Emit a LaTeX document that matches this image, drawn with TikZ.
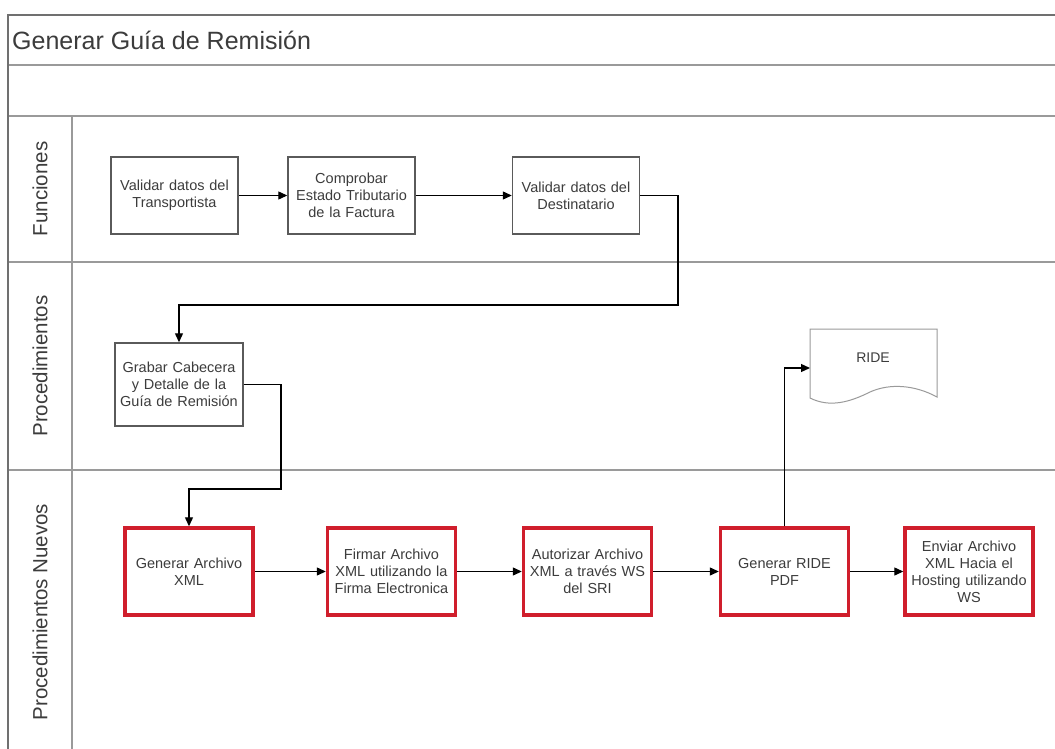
\documentclass[tikz,border=0pt]{standalone}
\usepackage{fontspec}
\setmainfont{Liberation Sans}
\usetikzlibrary{arrows.meta}
\definecolor{frameC}{HTML}{707070}
\definecolor{laneC}{HTML}{9A9A9A}
\definecolor{boxC}{HTML}{5A5A5A}
\definecolor{txtC}{HTML}{3C3C3C}
\definecolor{redC}{HTML}{D01E2C}
\definecolor{docC}{HTML}{9A9A9A}
\tikzset{
  lanelabel/.style={rotate=90, text=txtC, font=\fontsize{20.5}{24}\selectfont},
  procbox/.style={draw=boxC, line width=1.4pt, fill=white, text=txtC, align=center,
    minimum width=127pt, minimum height=77pt, inner sep=0pt, text width=120pt,
    font=\fontsize{14.5}{17}\selectfont},
  redbox/.style={procbox, draw=redC, line width=3.4pt, minimum width=128pt, minimum height=87pt},
  flow/.style={draw=black, line width=1.2pt, -{Triangle[length=9pt,width=8pt]}},
}
\begin{document}
\begin{tikzpicture}[x=1pt,y=-1pt]
\useasboundingbox (0,0) rectangle (1055,749);
\fill[white] (0,0) rectangle (1055,749);
% frame
\draw[laneC, line width=1.2pt] (8,65) -- (1055,65);
\draw[laneC, line width=1.2pt] (8,116) -- (1055,116);
\draw[laneC, line width=1.2pt] (8,262) -- (1055,262);
\draw[laneC, line width=1.2pt] (8,470) -- (1055,470);
\draw[laneC, line width=1.2pt] (72,116) -- (72,749);
\draw[frameC, line width=1.8pt] (8,749) -- (8,15) -- (1055,15);
% title and lane labels
\node[anchor=west, text=txtC, font=\fontsize{25}{30}\selectfont, inner sep=0pt] (title) at (12,40) {Generar Guía de Remisión};
\node[lanelabel] (lf) at (40,189) {Funciones};
\node[lanelabel] (lp) at (40,366) {Procedimientos};
\node[lanelabel] (ln) at (40,612) {Procedimientos Nuevos};
% Funciones
\node[procbox] (b1) at (174.5,195.5) {Validar datos del\\Transportista};
\node[procbox] (b2) at (351.5,195.5) {Comprobar\\Estado Tributario\\de la Factura};
\node[procbox] (b3) at (576,195.5) {Validar datos del\\Destinatario};
% Procedimientos
\node[procbox, minimum width=128pt, minimum height=83pt] (b4) at (179,384.5) {Grabar Cabecera\\y Detalle de la\\Guía de Remisión};
% RIDE document
\draw[docC, line width=1pt, fill=white] (810,329) -- (937,329) -- (937,397)
  .. controls (915,385) and (890,383) .. (870,392)
  .. controls (850,402) and (830,408) .. (810,398) -- cycle;
\node[text=txtC, font=\fontsize{14}{17}\selectfont] (ride) at (873,358) {RIDE};
\coordinate (ridein) at (810,368);
% Procedimientos Nuevos
\node[redbox] (g1) at (189,571.5) {Generar Archivo\\XML};
\node[redbox] (g2) at (391.5,571.5) {Firmar Archivo\\XML utilizando la\\Firma Electronica};
\node[redbox] (g3) at (587.5,571.5) {Autorizar Archivo\\XML a través WS\\del SRI};
\node[redbox] (g4) at (784.5,571.5) {Generar RIDE\\PDF};
\node[redbox] (g5) at (969,571.5) {Enviar Archivo\\XML Hacia el\\Hosting utilizando\\WS};
% bend points
\coordinate (c1) at (678,305);
\coordinate (c2) at (281,489);
% connectors
\draw[flow] (b1) -- (b2);
\draw[flow] (b2) -- (b3);
\draw[flow] (b3.east) -| (c1) -| (b4.north);
\draw[flow] (b4.east) -| (c2) -| (g1.north);
\draw[flow] (g1) -- (g2);
\draw[flow] (g2) -- (g3);
\draw[flow] (g3) -- (g4);
\draw[flow] (g4) -- (g5);
\draw[flow] (g4.north) |- (ridein);
\end{tikzpicture}
\end{document}
